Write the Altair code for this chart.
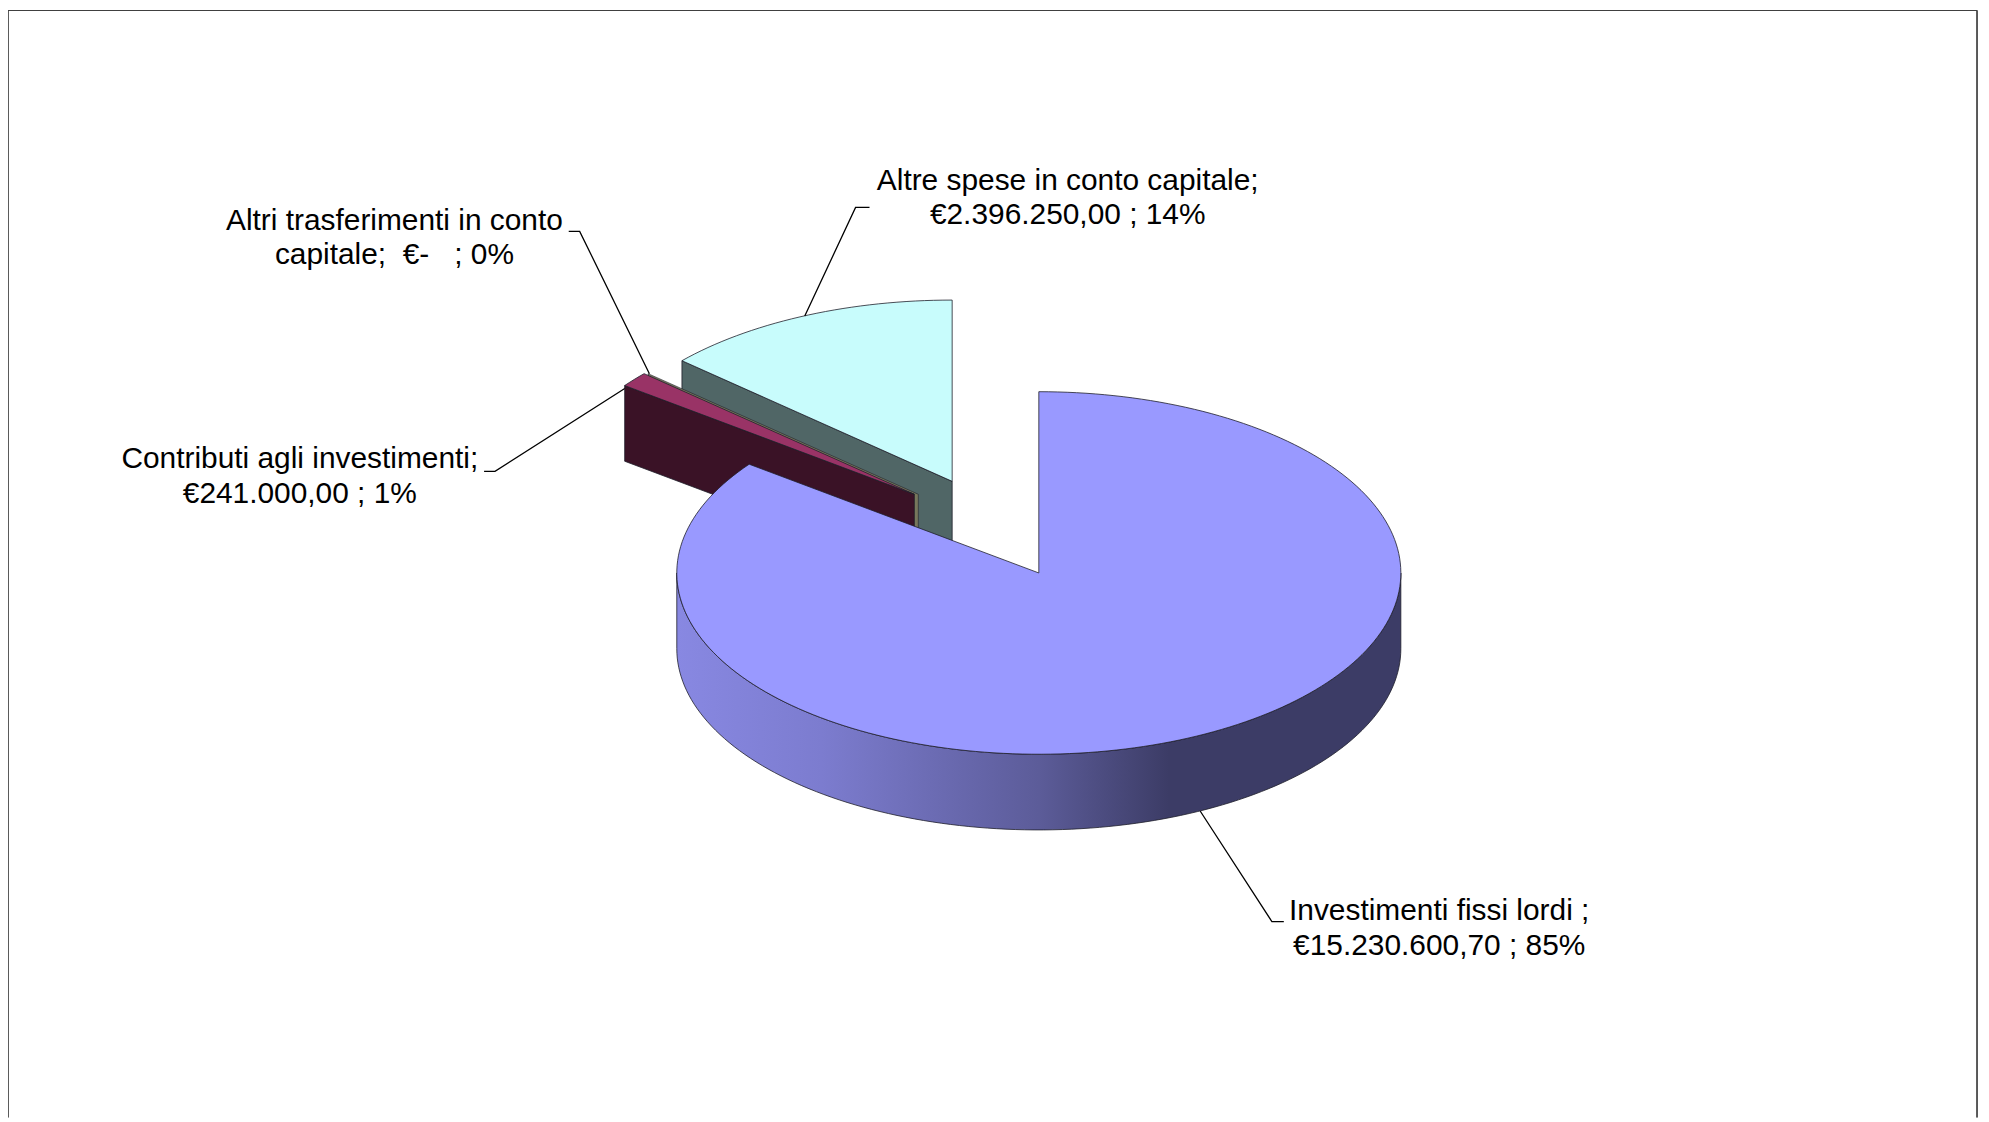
import numpy as np
import altair as alt

# ---- chart values ----
names = ["Investimenti fissi lordi", "Contributi agli investimenti",
         "Altri trasferimenti in conto capitale", "Altre spese in conto capitale"]
values = [15230600.70, 241000.00, 0.0, 2396250.00]
tops = ["#9999FF", "#993366", "#FFFFCC", "#C8FCFC"]
walls = ["#3C3C66", "#3A1226", "#77775C", "#506666"]
# apex of every (exploded) slice on the page
apex_x = [1043, 918, 922, 956]
apex_y = [573, 494, 494, 481]

label_lines = ["Altre spese in conto capitale;", "€2.396.250,00 ; 14%",
               "Altri trasferimenti in conto", "capitale;\u00a0 €-\u00a0\u00a0 ; 0%",
               "Contributi agli investimenti;", "€241.000,00 ; 1%",
               "Investimenti fissi lordi ;", "€15.230.600,70 ; 85%"]
label_x = [1072, 1072, 396, 396, 301, 301, 1445, 1445]
label_y = [179, 214, 220, 254, 459, 494, 912, 948]

leaders = [[(873, 206), (859, 206), (808, 315)],
           [(571, 230), (582, 230), (652, 373)],
           [(486, 471), (497, 471), (630, 386)],
           [(1205, 812), (1277, 923), (1289, 923)]]
frame = [(8, 1120), (8, 8), (1985, 8), (1985, 1120)]

RX, RY, DEPTH = 363.5, 182, 76
FONT = "Liberation Sans"
EDGE = "#1e1e2a"

total = sum(values)
cuts = np.concatenate([[0], np.cumsum(values) / total * 360.0])


def pt(i, deg, drop=0.0):
    a = np.radians(deg)
    return [float(apex_x[i] + RX * np.sin(a)), float(apex_y[i] - RY * np.cos(a) + drop)]


def arc(i, d0, d1, drop=0.0):
    n = max(2, int(abs(d1 - d0) / 1.5) + 2)
    return [pt(i, d, drop) for d in np.linspace(d0, d1, n)]


def poly(coords):
    c = [list(p) for p in coords]
    c.append(c[0])
    return {"type": "Feature", "properties": {}, "geometry": {"type": "Polygon", "coordinates": [c]}}


def path(coords):
    return {"type": "Feature", "properties": {},
            "geometry": {"type": "LineString", "coordinates": [list(p) for p in coords]}}


proj = alt.Projection(type="identity", scale=1, translate=[-8, -8])


def shape(feature, **kw):
    return alt.Chart(alt.Data(values=[feature])).mark_geoshape(**kw).properties(projection=proj)


def top(i):
    c = [[apex_x[i], apex_y[i]]] + arc(i, cuts[i], cuts[i + 1])
    return shape(poly(c), fill=tops[i], stroke=EDGE, strokeWidth=0.8)


def cut_wall(i, deg, width=0.8):
    a, b = [apex_x[i], apex_y[i]], pt(i, deg)
    c = [a, b, [b[0], b[1] + DEPTH], [a[0], a[1] + DEPTH]]
    return shape(poly(c), fill=walls[i], stroke=EDGE, strokeWidth=width)


def front_wall(i):
    up = arc(i, 90, 270)
    down = arc(i, 270, 90, DEPTH)
    grad = alt.LinearGradient(
        gradient="linear", x1=0, x2=1, y1=0, y2=0,
        stops=[alt.GradientStop(offset=0.0, color="#8888E2"),
               alt.GradientStop(offset=0.2, color="#7C7CCF"),
               alt.GradientStop(offset=0.5, color="#5C5C99"),
               alt.GradientStop(offset=0.68, color="#3C3C66"),
               alt.GradientStop(offset=1.0, color="#3C3C66")])
    return shape(poly(up + down), fill=grad, stroke=EDGE, strokeWidth=0.8)


layers = [shape(path(frame), filled=False, stroke="black", strokeWidth=1.3)]
layers += [cut_wall(3, cuts[3]), top(3)]
layers += [shape(path(l), filled=False, stroke="black", strokeWidth=1.3) for l in leaders]
layers += [cut_wall(2, cuts[2], 0.6), cut_wall(1, cuts[1]), top(1)]
layers += [front_wall(0), top(0)]

rows = [{"t": t, "x": x, "y": y} for t, x, y in zip(label_lines, label_x, label_y)]
text = alt.Chart(alt.Data(values=rows)).mark_text(
    font=FONT, fontSize=30, align="center", baseline="middle", color="black"
).encode(longitude="x:Q", latitude="y:Q", text="t:N").properties(projection=proj)
layers.append(text)

chart = alt.layer(*layers).properties(width=1981, height=1112, padding=0, background="white"
    ).configure_view(stroke=None)

chart.save("out.html", embed_options={"renderer": "svg", "actions": False})
